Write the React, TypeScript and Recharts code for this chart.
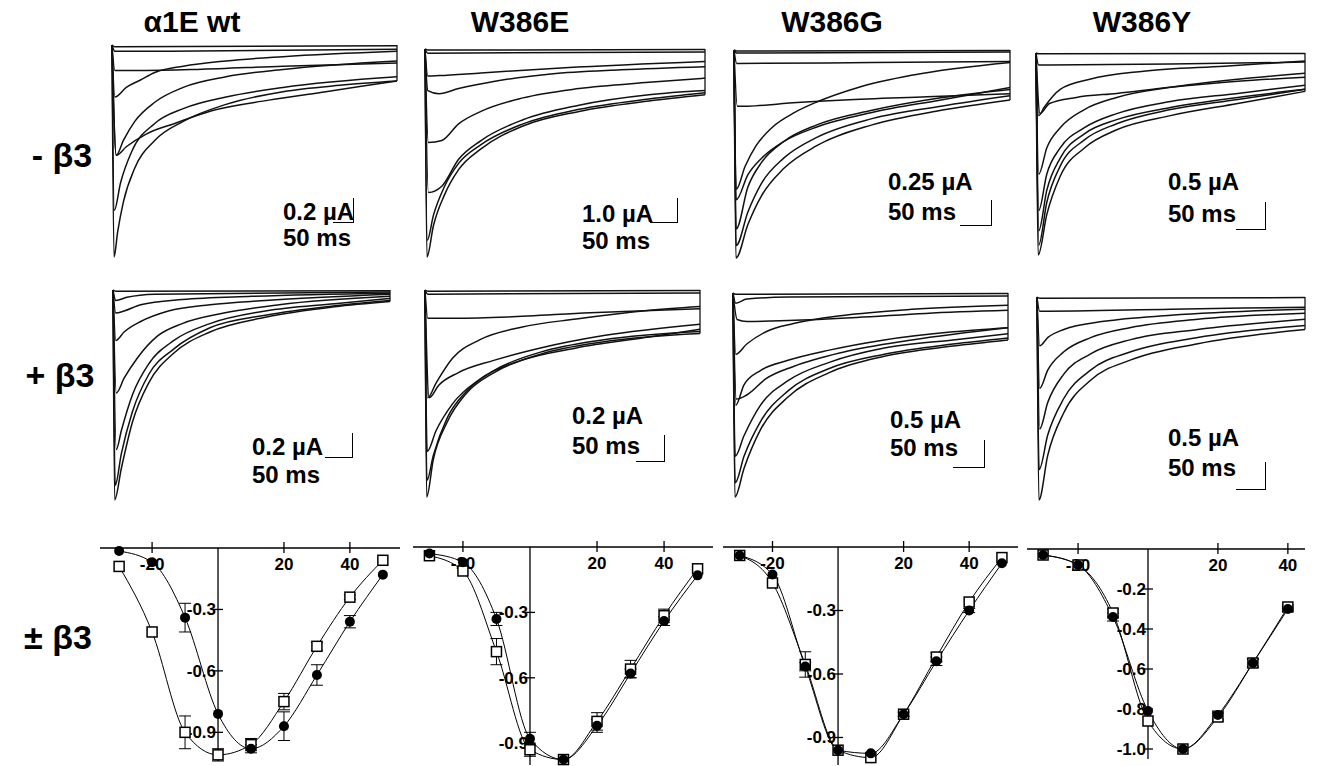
import React from 'react';
import { LineChart, Line, XAxis, YAxis, ReferenceLine, ReferenceDot, ErrorBar } from 'recharts';

const FONT = "'Liberation Sans', Arial, Helvetica, sans-serif";

type Pt = [number, number];

// ---------- current traces (t = % of sweep, i = fraction of the panel's largest peak) ----------
const wtMinusTraces: Pt[][] = [
  [[0, 0], [1, -0.008], [100, -0.004]],
  [[0, 0], [1, -0.03], [20, -0.03], [100, -0.02]],
  [[0, 0], [1, -0.12], [10, -0.12], [30, -0.115], [60, -0.1], [100, -0.085]],
  [[0, 0], [1, -0.245], [5, -0.2], [10, -0.165], [15, -0.13], [25, -0.1], [40, -0.075], [60, -0.055], [100, -0.03]],
  [[0, 0], [1.5, -0.52], [4, -0.45], [8, -0.36], [15, -0.27], [25, -0.2], [40, -0.15], [60, -0.115], [100, -0.075]],
  [[0, 0], [1.5, -0.52], [5, -0.48], [12, -0.42], [22, -0.37], [35, -0.31], [55, -0.26], [75, -0.22], [100, -0.17]],
  [[0, 0], [0.8, -0.78], [3, -0.65], [7, -0.5], [15, -0.37], [25, -0.3], [40, -0.245], [60, -0.2], [100, -0.15]],
  [[0, 0], [0.7, -1], [2, -0.88], [4, -0.74], [8, -0.58], [15, -0.45], [25, -0.36], [40, -0.28], [60, -0.22], [80, -0.19], [100, -0.17]],
];
const eMinusTraces: Pt[][] = [
  [[0, 0], [1, -0.005], [100, -0.003]],
  [[0, 0], [1, -0.02], [100, -0.015]],
  [[0, 0], [1, -0.13], [5, -0.128], [20, -0.115], [50, -0.09], [100, -0.06]],
  [[0, 0], [1, -0.2], [5, -0.215], [12, -0.19], [25, -0.155], [45, -0.12], [70, -0.1], [100, -0.085]],
  [[0, 0], [1.2, -0.45], [6, -0.44], [12, -0.36], [20, -0.3], [35, -0.235], [55, -0.19], [80, -0.16], [100, -0.14]],
  [[0, 0], [1.2, -0.69], [6, -0.66], [12, -0.53], [20, -0.44], [35, -0.34], [55, -0.27], [80, -0.22], [100, -0.2]],
  [[0, 0], [0.8, -0.92], [3, -0.8], [7, -0.66], [12, -0.55], [20, -0.46], [35, -0.36], [55, -0.29], [80, -0.24], [100, -0.21]],
  [[0, 0], [0.7, -1], [3, -0.85], [7, -0.7], [12, -0.58], [20, -0.48], [35, -0.37], [55, -0.3], [80, -0.25], [100, -0.22]],
];
const gMinusTraces: Pt[][] = [
  [[0, 0], [1, -0.005], [100, -0.003]],
  [[0, 0], [1, -0.015], [100, -0.01]],
  [[0, 0], [1, -0.065], [50, -0.06], [100, -0.055]],
  [[0, 0], [1.2, -0.27], [5, -0.27], [20, -0.255], [40, -0.24], [70, -0.225], [100, -0.21]],
  [[0, 0], [0.8, -0.67], [4, -0.56], [8, -0.46], [14, -0.37], [22, -0.3], [30, -0.25], [45, -0.18], [65, -0.12], [100, -0.06]],
  [[0, 0], [0.8, -0.72], [5, -0.6], [10, -0.52], [18, -0.44], [30, -0.37], [50, -0.3], [75, -0.24], [100, -0.18]],
  [[0, 0], [0.8, -0.86], [5, -0.66], [10, -0.54], [18, -0.44], [30, -0.36], [50, -0.29], [75, -0.23], [100, -0.19]],
  [[0, 0], [0.8, -0.94], [5, -0.78], [10, -0.64], [18, -0.52], [30, -0.42], [50, -0.33], [75, -0.27], [100, -0.22]],
  [[0, 0], [0.7, -1], [5, -0.84], [10, -0.7], [18, -0.57], [30, -0.46], [50, -0.36], [75, -0.29], [100, -0.24]],
];
const yMinusTraces: Pt[][] = [
  [[0, 0], [1, -0.004], [100, -0.002]],
  [[0, 0], [1, -0.06], [50, -0.055], [100, -0.045]],
  [[0, 0], [1, -0.31], [3, -0.27], [9, -0.18], [20, -0.13], [40, -0.09], [70, -0.065], [100, -0.04]],
  [[0, 0], [1.5, -0.3], [5, -0.25], [15, -0.22], [30, -0.2], [50, -0.17], [75, -0.14], [100, -0.12]],
  [[0, 0], [1, -0.6], [4, -0.47], [9, -0.37], [18, -0.28], [30, -0.22], [50, -0.17], [75, -0.13], [100, -0.1]],
  [[0, 0], [1, -0.78], [4, -0.6], [9, -0.47], [18, -0.37], [30, -0.3], [50, -0.24], [75, -0.2], [100, -0.16]],
  [[0, 0], [1, -0.88], [4, -0.68], [9, -0.52], [18, -0.4], [30, -0.33], [50, -0.27], [75, -0.22], [100, -0.18]],
  [[0, 0], [1, -0.95], [4, -0.74], [9, -0.56], [18, -0.43], [30, -0.35], [50, -0.28], [75, -0.23], [100, -0.18]],
  [[0, 0], [0.8, -1], [4, -0.8], [9, -0.61], [18, -0.47], [30, -0.38], [50, -0.31], [75, -0.25], [100, -0.19]],
];
const wtPlusTraces: Pt[][] = [
  [[0, 0], [1, -0.006], [100, -0.003]],
  [[0, 0], [1, -0.05], [5, -0.035], [15, -0.02], [100, -0.01]],
  [[0, 0], [1, -0.11], [4, -0.1], [10, -0.07], [25, -0.045], [50, -0.03], [100, -0.015]],
  [[0, 0], [1, -0.24], [4, -0.2], [10, -0.15], [20, -0.1], [35, -0.07], [55, -0.05], [100, -0.02]],
  [[0, 0], [1.2, -0.49], [4, -0.42], [9, -0.32], [16, -0.22], [25, -0.16], [40, -0.11], [60, -0.07], [100, -0.03]],
  [[0, 0], [1.2, -0.76], [3, -0.67], [7, -0.5], [13, -0.35], [22, -0.24], [35, -0.16], [55, -0.1], [80, -0.065], [100, -0.04]],
  [[0, 0], [0.8, -0.93], [3, -0.78], [7, -0.58], [13, -0.4], [22, -0.28], [35, -0.18], [55, -0.12], [80, -0.075], [100, -0.05]],
  [[0, 0], [0.6, -1], [3, -0.85], [7, -0.63], [13, -0.44], [22, -0.3], [35, -0.2], [55, -0.13], [80, -0.08], [100, -0.055]],
];
const ePlusTraces: Pt[][] = [
  [[0, 0], [1, -0.006], [100, -0.003]],
  [[0, 0], [1, -0.02], [100, -0.015]],
  [[0, 0], [1, -0.137], [10, -0.137], [30, -0.13], [60, -0.11], [100, -0.09]],
  [[0, 0], [1, -0.52], [4, -0.45], [10, -0.33], [20, -0.24], [35, -0.18], [55, -0.14], [80, -0.1], [100, -0.08]],
  [[0, 0], [1.5, -0.52], [5, -0.46], [12, -0.4], [25, -0.34], [42, -0.28], [65, -0.22], [100, -0.165]],
  [[0, 0], [0.8, -0.78], [4, -0.68], [10, -0.55], [20, -0.43], [35, -0.34], [55, -0.28], [80, -0.23], [100, -0.19]],
  [[0, 0], [0.7, -0.92], [3, -0.8], [8, -0.62], [15, -0.49], [25, -0.39], [42, -0.3], [65, -0.24], [100, -0.2]],
  [[0, 0], [0.6, -1], [3, -0.82], [8, -0.64], [15, -0.5], [25, -0.4], [42, -0.31], [65, -0.25], [100, -0.21]],
];
const gPlusTraces: Pt[][] = [
  [[0, 0], [1, -0.006], [100, -0.003]],
  [[0, 0], [1, -0.05], [5, -0.03], [20, -0.02], [100, -0.015]],
  [[0, 0], [1.5, -0.13], [5, -0.14], [20, -0.135], [45, -0.12], [70, -0.1], [100, -0.085]],
  [[0, 0], [1, -0.3], [5, -0.25], [12, -0.19], [22, -0.15], [40, -0.11], [65, -0.08], [100, -0.06]],
  [[0, 0], [1.2, -0.52], [5, -0.5], [12, -0.42], [22, -0.36], [40, -0.29], [65, -0.23], [100, -0.17]],
  [[0, 0], [1, -0.55], [4, -0.45], [10, -0.38], [20, -0.33], [35, -0.28], [55, -0.23], [80, -0.19], [100, -0.17]],
  [[0, 0], [0.8, -0.8], [4, -0.7], [10, -0.55], [20, -0.43], [35, -0.34], [55, -0.27], [80, -0.23], [100, -0.2]],
  [[0, 0], [0.8, -0.93], [4, -0.8], [10, -0.63], [20, -0.48], [35, -0.37], [55, -0.3], [80, -0.25], [100, -0.22]],
  [[0, 0], [0.7, -1], [4, -0.86], [10, -0.67], [20, -0.51], [35, -0.39], [55, -0.31], [80, -0.26], [100, -0.23]],
];
const yPlusTraces: Pt[][] = [
  [[0, 0], [1, -0.006], [100, -0.003]],
  [[0, 0], [1, -0.07], [50, -0.06], [100, -0.05]],
  [[0, 0], [1, -0.24], [4, -0.2], [10, -0.16], [25, -0.12], [50, -0.09], [100, -0.06]],
  [[0, 0], [1, -0.45], [4, -0.36], [10, -0.27], [20, -0.2], [35, -0.15], [60, -0.11], [100, -0.08]],
  [[0, 0], [1, -0.65], [4, -0.52], [10, -0.38], [20, -0.28], [35, -0.21], [60, -0.16], [100, -0.11]],
  [[0, 0], [0.8, -0.85], [4, -0.68], [10, -0.5], [20, -0.36], [35, -0.27], [60, -0.2], [100, -0.14]],
  [[0, 0], [0.7, -1], [4, -0.78], [10, -0.57], [20, -0.41], [35, -0.31], [60, -0.23], [100, -0.16]],
];

// ---------- normalised I–V relations (mV, I/Imax) ----------
const ivVolt = [-30, -20, -10, 0, 10, 20, 30, 40, 50];
const ivVoltY = [-30, -20, -10, 0, 10, 20, 30, 40];

const wtMinusIV = [-0.015, -0.07, -0.34, -0.81, -0.98, -0.87, -0.62, -0.36, -0.13];
const wtMinusErr = [0, 0, 0.07, 0, 0.02, 0.07, 0.05, 0.03, 0];
const wtPlusIV = [-0.09, -0.41, -0.9, -1.01, -0.96, -0.75, -0.48, -0.24, -0.06];
const wtPlusErr = [0, 0, 0.08, 0.03, 0.03, 0.04, 0.02, 0.01, 0];

const eMinusIV = [-0.03, -0.07, -0.33, -0.88, -0.975, -0.82, -0.58, -0.34, -0.13];
const eMinusErr = [0, 0, 0.03, 0.03, 0, 0.03, 0.02, 0.02, 0];
const ePlusIV = [-0.04, -0.11, -0.48, -0.93, -0.975, -0.8, -0.56, -0.315, -0.1];
const ePlusErr = [0, 0, 0.06, 0.03, 0, 0.04, 0.04, 0.03, 0];

const gMinusIV = [-0.04, -0.13, -0.565, -0.96, -0.975, -0.79, -0.54, -0.3, -0.077];
const gMinusErr = [0, 0, 0.02, 0, 0, 0.01, 0.02, 0.01, 0];
const gPlusIV = [-0.04, -0.17, -0.555, -0.96, -0.995, -0.79, -0.52, -0.26, -0.05];
const gPlusErr = [0, 0, 0.06, 0, 0, 0, 0.02, 0, 0];

const yMinusIV = [-0.03, -0.08, -0.34, -0.81, -1.0, -0.83, -0.57, -0.3];
const yMinusErr = [0, 0, 0.02, 0, 0, 0.02, 0.02, 0.01];
const yPlusIV = [-0.03, -0.08, -0.32, -0.86, -1.0, -0.84, -0.57, -0.29];
const yPlusErr = [0, 0, 0.02, 0, 0, 0.02, 0.02, 0.01];

// ---------- text ----------
const columnTitles = ['α1E wt', 'W386E', 'W386G', 'W386Y'];
const rowLabels = ['- β3', '+ β3', '± β3'];
const currentScaleLabels = ['0.2 µA', '1.0 µA', '0.25 µA', '0.5 µA', '0.2 µA', '0.2 µA', '0.5 µA', '0.5 µA'];
const timeScaleLabel = '50 ms';
const xTickValues = [-20, 20, 40];
const yTicks03 = [-0.3, -0.6, -0.9];
const yTicks02 = [-0.2, -0.4, -0.6, -0.8, -1.0];

// ---------- layout (pixels) ----------
const traceLayout = [
  { traces: wtMinusTraces, left: 112, right: 397, top: 45, bottom: 257 },
  { traces: eMinusTraces, left: 425, right: 705, top: 49, bottom: 257 },
  { traces: gMinusTraces, left: 734, right: 1010, top: 50, bottom: 258 },
  { traces: yMinusTraces, left: 1036, right: 1305, top: 53, bottom: 255 },
  { traces: wtPlusTraces, left: 113, right: 390, top: 290, bottom: 500 },
  { traces: ePlusTraces, left: 425, right: 700, top: 290, bottom: 497 },
  { traces: gPlusTraces, left: 733, right: 1008, top: 293, bottom: 497 },
  { traces: yPlusTraces, left: 1037, right: 1305, top: 297, bottom: 500 },
];

// scale bar: text left, current-label centre y, time-label centre y, bar x, bar top y, bar bottom y, bar left x
const scaleLayout = [
  { tx: 283, y1: 212, y2: 238, bx: 354, by0: 198, by1: 223, hx: 333 },
  { tx: 582, y1: 214, y2: 241, bx: 678, by0: 198, by1: 223, hx: 650 },
  { tx: 888, y1: 182, y2: 212, bx: 992, by0: 200, by1: 226, hx: 960 },
  { tx: 1168, y1: 182, y2: 214, bx: 1266, by0: 202, by1: 230, hx: 1236 },
  { tx: 252, y1: 447, y2: 475, bx: 353, by0: 433, by1: 458, hx: 325 },
  { tx: 572, y1: 416, y2: 446, bx: 665, by0: 435, by1: 462, hx: 636 },
  { tx: 890, y1: 420, y2: 448, bx: 985, by0: 440, by1: 468, hx: 953 },
  { tx: 1168, y1: 438, y2: 468, bx: 1266, by0: 462, by1: 490, hx: 1236 },
];

const ivLayout = [
  { volt: ivVolt, minus: wtMinusIV, minusErr: wtMinusErr, plus: wtPlusIV, plusErr: wtPlusErr, yTicks: yTicks03, vMin: -35.8, vMax: 55.2, iMin: -1.04, left: 100, right: 400, zeroY: 548, bottom: 761 },
  { volt: ivVolt, minus: eMinusIV, minusErr: eMinusErr, plus: ePlusIV, plusErr: ePlusErr, yTicks: yTicks03, vMin: -34.9, vMax: 54.6, iMin: -1.0, left: 413, right: 713, zeroY: 547, bottom: 765 },
  { volt: ivVolt, minus: gMinusIV, minusErr: gMinusErr, plus: gPlusIV, plusErr: gPlusErr, yTicks: yTicks03, vMin: -35.1, vMax: 54.9, iMin: -1.03, left: 723, right: 1018, zeroY: 547, bottom: 765 },
  { volt: ivVoltY, minus: yMinusIV, minusErr: yMinusErr, plus: yPlusIV, plusErr: yPlusErr, yTicks: yTicks02, vMin: -34.6, vMax: 44.9, iMin: -1.05, left: 1027, right: 1305, zeroY: 549, bottom: 759 },
];

const titleCenters = [192, 520, 832, 1142];
const titleY = 22;
const rowLabelPos = [{ x: 62, y: 155 }, { x: 60, y: 375 }, { x: 58, y: 637 }];

// ---------- components ----------
const Txt = ({ x, y, size, children, anchor = 'middle' }: any) => (
  <div
    style={{
      position: 'absolute',
      left: x,
      top: y,
      transform: anchor === 'middle' ? 'translate(-50%, -50%)' : 'translate(0, -50%)',
      fontFamily: FONT,
      fontWeight: 'bold',
      fontSize: size,
      lineHeight: 1,
      whiteSpace: 'nowrap',
      color: '#000',
    }}
  >
    {children}
  </div>
);

function TracePanel({ cfg }: any) {
  const pad = 4;
  const w = cfg.right - cfg.left;
  const h = cfg.bottom - cfg.top;
  const endDepth = Math.min(...cfg.traces.map((tr: Pt[]) => tr[tr.length - 1][1]));
  return (
    <div style={{ position: 'absolute', left: cfg.left - pad, top: cfg.top - pad }}>
      <LineChart width={w + 2 * pad} height={h + 2 * pad} margin={{ top: pad, right: pad, bottom: pad, left: pad }}>
        <XAxis type="number" dataKey="t" domain={[0, 100]} hide />
        <YAxis type="number" dataKey="i" domain={[-1, 0]} hide />
        <ReferenceLine
          segment={[{ x: 100, y: 0 }, { x: 100, y: endDepth }]}
          stroke="#000"
          strokeWidth={1.2}
          ifOverflow="visible"
        />
        {cfg.traces.map((tr: Pt[], k: number) => (
          <Line
            key={k}
            data={tr.map(([t, i]) => ({ t, i }))}
            dataKey="i"
            type="monotone"
            dot={false}
            activeDot={false}
            stroke="#111"
            strokeWidth={1.5}
            isAnimationActive={false}
          />
        ))}
      </LineChart>
    </div>
  );
}

const CircleDot = (p: any) => <circle key={p.key} cx={p.cx} cy={p.cy} r={5} fill="#000" />;
const SquareDot = (p: any) => (
  <rect key={p.key} x={p.cx - 5} y={p.cy - 5} width={10} height={10} fill="#fff" stroke="#000" strokeWidth={1.5} />
);

function IVPanel({ cfg }: any) {
  const padT = 10, padB = 6, padL = 4, padR = 4;
  const w = cfg.right - cfg.left;
  const h = cfg.bottom - cfg.zeroY;
  const minus = cfg.volt.map((v: number, k: number) => ({ v, i: cfg.minus[k], e: cfg.minusErr[k] }));
  const plus = cfg.volt.map((v: number, k: number) => ({ v, i: cfg.plus[k], e: cfg.plusErr[k] }));
  const minusE = minus.filter((d: any) => d.e > 0);
  const plusE = plus.filter((d: any) => d.e > 0);
  return (
    <div style={{ position: 'absolute', left: cfg.left - padL, top: cfg.zeroY - padT }}>
      <LineChart width={w + padL + padR} height={h + padT + padB} margin={{ top: padT, right: padR, bottom: padB, left: padL }}>
        <XAxis type="number" dataKey="v" domain={[cfg.vMin, cfg.vMax]} hide />
        <YAxis type="number" dataKey="i" domain={[cfg.iMin, 0]} hide />
        <ReferenceLine y={0} stroke="#000" strokeWidth={1.3} ifOverflow="visible" />
        <ReferenceLine x={0} stroke="#000" strokeWidth={1.3} ifOverflow="visible" />
        {xTickValues.map((v) => (
          <ReferenceDot
            key={'x' + v}
            x={v}
            y={0}
            ifOverflow="visible"
            shape={(p: any) => (
              <g>
                <line x1={p.cx} x2={p.cx} y1={p.cy - 6} y2={p.cy + 5} stroke="#000" strokeWidth={1.3} />
                <text x={p.cx} y={p.cy + 22} textAnchor="middle" fontFamily={FONT} fontWeight="bold" fontSize={17}>
                  {String(v)}
                </text>
              </g>
            )}
          />
        ))}
        {cfg.yTicks.map((t: number) => (
          <ReferenceDot
            key={'y' + t}
            x={0}
            y={t}
            ifOverflow="visible"
            shape={(p: any) => (
              <g>
                <line x1={p.cx - 5} x2={p.cx + 5} y1={p.cy} y2={p.cy} stroke="#000" strokeWidth={1.3} />
                <text x={p.cx - 2} y={p.cy + 6} textAnchor="end" fontFamily={FONT} fontWeight="bold" fontSize={17}>
                  {t.toFixed(1)}
                </text>
              </g>
            )}
          />
        ))}
        <Line data={plusE} dataKey="i" stroke="none" dot={false} activeDot={false} isAnimationActive={false}>
          <ErrorBar dataKey="e" width={6} stroke="#000" strokeWidth={1} direction="y" />
        </Line>
        <Line data={minusE} dataKey="i" stroke="none" dot={false} activeDot={false} isAnimationActive={false}>
          <ErrorBar dataKey="e" width={6} stroke="#000" strokeWidth={1} direction="y" />
        </Line>
        <Line data={plus} dataKey="i" type="monotone" stroke="#000" strokeWidth={1} dot={SquareDot} activeDot={false} isAnimationActive={false} />
        <Line data={minus} dataKey="i" type="monotone" stroke="#000" strokeWidth={1} dot={CircleDot} activeDot={false} isAnimationActive={false} />
      </LineChart>
    </div>
  );
}

function ScaleBar({ cfg, label }: any) {
  return (
    <>
      <Txt x={cfg.tx} y={cfg.y1} size={24} anchor="start">{label}</Txt>
      <Txt x={cfg.tx} y={cfg.y2} size={24} anchor="start">{timeScaleLabel}</Txt>
      <div
        style={{
          position: 'absolute',
          left: cfg.hx,
          top: cfg.by0,
          width: cfg.bx - cfg.hx,
          height: cfg.by1 - cfg.by0,
          borderRight: '1.3px solid #000',
          borderBottom: '1.3px solid #000',
          boxSizing: 'border-box',
        }}
      />
    </>
  );
}

export default function App() {
  return (
    <div style={{ position: 'absolute', left: 0, top: 0, width: 1324, height: 766, background: '#fff', overflow: 'hidden' }}>
      {columnTitles.map((t, k) => (
        <Txt key={t} x={titleCenters[k]} y={titleY} size={30}>{t}</Txt>
      ))}
      {rowLabels.map((t, k) => (
        <Txt key={t} x={rowLabelPos[k].x} y={rowLabelPos[k].y} size={34}>{t}</Txt>
      ))}
      {traceLayout.map((cfg, k) => (
        <TracePanel key={'tp' + k} cfg={cfg} />
      ))}
      {scaleLayout.map((cfg, k) => (
        <ScaleBar key={'sb' + k} cfg={cfg} label={currentScaleLabels[k]} />
      ))}
      {ivLayout.map((cfg, k) => (
        <IVPanel key={'iv' + k} cfg={cfg} />
      ))}
    </div>
  );
}
